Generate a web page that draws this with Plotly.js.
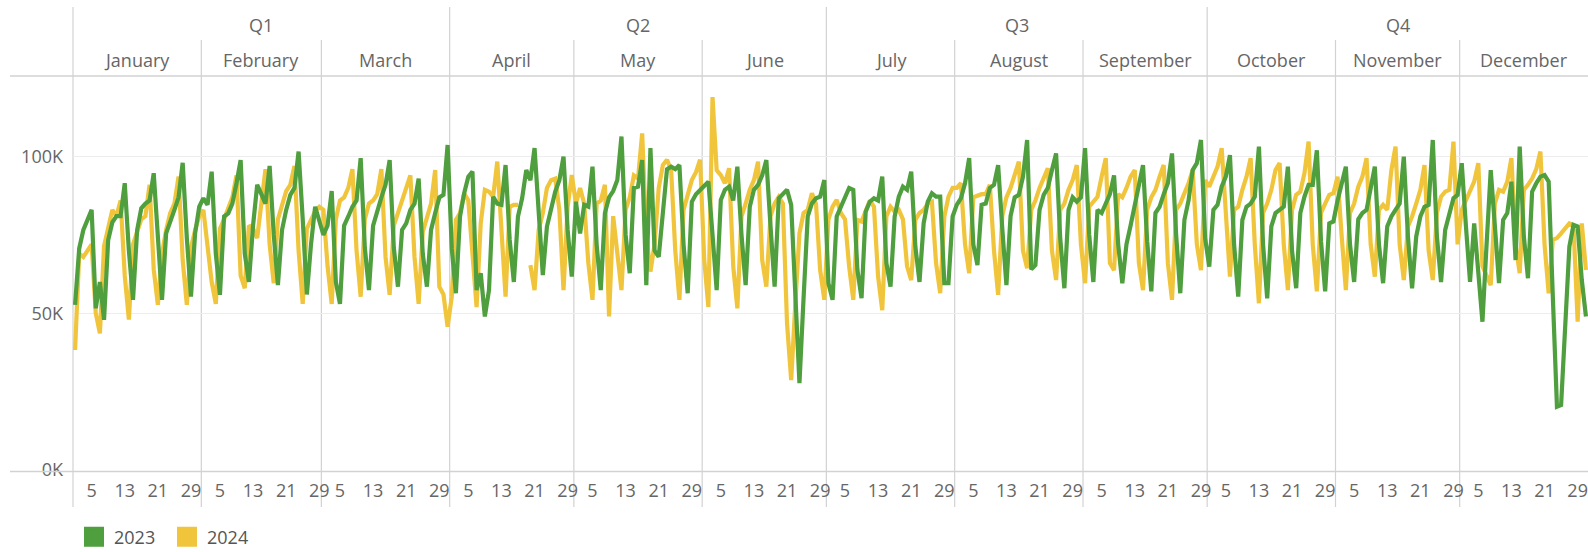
<!DOCTYPE html>
<html>
<head>
<meta charset="utf-8">
<script src="https://cdn.plot.ly/plotly-3.0.1.min.js"></script>
<style>
html,body{margin:0;padding:0;background:#fff;overflow:hidden}
#chart{width:1588px;height:552px}
</style>
</head>
<body>
<div id="chart"></div>
<script>
// ---------- data ----------
const quarters = ['Q1', 'Q2', 'Q3', 'Q4'];
const months = ['January', 'February', 'March', 'April', 'May', 'June',
  'July', 'August', 'September', 'October', 'November', 'December'];
const monthDays = [31, 29, 31, 30, 31, 30, 31, 31, 30, 31, 30, 31];
const tickDays = [5, 13, 21, 29];
const yTicks = [0, 50, 100];   // thousands
const yTickText = ['0K', '50K', '100K'];
const seriesNames = ['2023', '2024'];

// daily values in thousands, one row per month (Feb has 29 slots)
const sales2023 = [
  52.7, 70.7, 76.6, 79.8, 83, 51.6, 60, 47.9, 73.4, 79, 81, 81, 91.5, 70, 54.3, 76.6, 83.5, 85, 86, 94.7, 72, 54.3, 75.5, 79.8, 83, 87, 98, 74, 55.3, 75.5, 84,
  86.7, 84.6, 95.2, 69, 55.9, 80.9, 81.9, 85, 91.5, 98.9, 69, 60, 78, 91, 88, 85, 97, 75, 59, 76.6, 83, 87.8, 90, 101.6, 80, 56, 72, 84, null,
  75, 78, 89, 60, 53, 78, 80.9, 84, 86, 99.5, 71, 57.4, 78, 83, 87, 91, 98.9, 71, 58.5, 76.6, 78.7, 83, 85, 93, 69, 58.5, 76.6, 82, 87, 87.8, 103.7,
  70.7, 56.4, 80.9, 88.3, 93.6, 95.2, 57.4, 62.8, 49, 57.4, 87.2, 85, 84.6, 97.3, 73.4, 60, 80.9, 86.7, 95.7, 92.5, 102.7, 80.9, 62.2, 77.7, 84, 88.8, 92.5, 100, 76.6, 61.7,
  85.6, 75.5, 84.6, 84, 96.8, 72, 57.4, 82, 87, 89, 92.5, 106.4, 75, 62.8, 90, 90.4, 98.9, 59, 102.7, 70, 68, 82, 96, 96.8, 96, 97.3, 72, 56.4, 85.6, 88, 89.4,
  91, 92, 75, 57.4, 86.2, 89.4, 90.4, 86, 96.8, 75, 59, 84, 89.4, 91, 94, 98.9, 78, 58.5, 86.7, 88.3, 89.4, 84.6, 53, 27.7, 55, 80.9, 85, 86.7, 87.2, 92.5,
  59.6, 54.3, 80.9, 84, 87.2, 90, 89.4, 63.8, 54.8, 82.4, 85.6, 86.7, 86, 93.6, 66, 58.5, 80.9, 87.2, 90.4, 89.4, 95.2, 71.3, 60, 78.7, 85.6, 88.3, 87.2, 87.2, 59.6, 59.6, 80.9,
  84.6, 86.7, 91.5, 99.5, 72, 65.4, 84.6, 85, 90, 91, 97.3, 77, 59, 81, 87, 87.8, 93.6, 105.3, 64, 65.4, 83, 87.8, 90, 95.7, 101, 74, 58, 83, 87, 85.6, 87,
  102.7, 75, 60, 83, 82, 85, 88, 94, 72, 59.6, 72, 78, 85, 91, 97.3, 73, 57, 82, 84, 88, 91.5, 101, 75, 56.4, 79.8, 86, 95.7, 97.9, 105.3, 74,
  64.9, 83, 84.6, 90.4, 93.6, 100.5, 72, 55.3, 79.8, 84, 85, 87.2, 103.2, 72, 54.8, 77.7, 82, 83, 84, 96.8, 70, 58, 82, 87.2, 91, 91, 102, 73, 57, 78.7, 79.3,
  86, 92, 96.8, 72, 60, 80, 82, 83, 89.4, 96.8, 72, 59.6, 77.7, 80.9, 83, 85, 100, 74.5, 58, 74.5, 80.9, 84, 84.6, 105.3, 74.5, 60, 76.6, 82, 86.7, 87.8,
  97.9, 78, 60, 78.7, 63, 47.3, 72, 95.7, 78, 59.6, 79.8, 82, 92, 67, 103.2, 74.5, 61.2, 88.8, 91.5, 93.6, 94.1, 92, 55.3, 20.2, 20.7, 45.7, 71.3, 78.2, 77.7, 60.6, 49
];

const sales2024 = [
  38.3, 69, 68, 70, 72, 50, 43.6, 71.5, 78, 83, 81, 86, 62, 48, 72, 76.6, 80, 81, 91, 64, 52.7, 69, 76.6, 82, 85, 93.6, 67, 52.7, 71, 76.6, 81,
  83, 70, 60, 53, 77, 80, 84, 87, 94, 62, 58, 78, 77, 74, 85, 96, 72, 59.6, 80, 85, 89, 91, 97, 70, 53, 77, 80, 82.6, 84,
  83, 65, 53, 80, 86, 87, 90, 96, 70, 55.3, 80, 85, 86, 88, 96, 68, 55.9, 78, 82, 87, 90, 94, 68, 53, 76, 80, 85, 95.7, 58.5, 56, 45.7,
  55.3, 79.8, 82, 88.3, 86, 70, 52, 78.7, 89.4, 88.8, 87.2, 98.4, 76.6, 55.3, 84, 84.6, 84.6, null, null, 65.4, 57.4, 76.6, 82, 90, 92.5, 93, 83, 57.4, 84, 94.1,
  85, 90, 85, 66, 54.3, 85, 86, 91, 49, 81, 70, 57.4, 83, 87, 94, 93, 107.4, 75, 63.3, 72, 90, 97.3, 99, 95.7, 70, 54.3, 83, 88.3, 92.5, 95, 99,
  67, 52, 119, 95.7, 94.1, 91.5, 96.3, 65, 51.6, 80.9, 85, 89.4, 92.5, 98.4, 67, 58.5, 80.9, 85, 87.2, 85, 46.8, 28.7, 53, 75.5, 82, 83, 88.3, 85, 63.8, 54.3,
  80, 84, 86.2, 82, 80, 65, 54.3, 79.8, 79.3, 83, 86, 84, 61.7, 51, 80.9, 84, 82.4, 83, 80, 65, 60.6, 79.8, 82, 83, 85, 85.6, 66, 56.4, 80.9, 87.2, 90,
  90, 91.5, 72, 62.8, 87, 87.5, 88, 88, 91, 70, 55.9, 81, 87, 90, 94.5, 98.4, 70, 64.4, 83, 86, 90, 93, 96.3, 70, 60.6, 83, 85, 89.4, 92.5, 97.3, 72,
  59.6, 84, 85.6, 87.2, 93.6, 99.5, 66, 63.8, 88, 87, 90, 93.6, 95.7, 66, 57.4, 83, 87, 89.4, 93.6, 97.3, 66, 54.3, 83, 85, 88.3, 91.5, 95.7, 72, 63.8, 92.5,
  90.4, 93.6, 96.8, 102.7, 79.8, 61.7, 83, 84, 89.4, 93.6, 99.5, 72, 53.2, 82, 85, 89.4, 95.7, 97.9, 72, 57.4, 83, 87.8, 88.8, 94.7, 104.8, 72, 57, 82, 85, 87.8, 88.3,
  93.6, 74.5, 57.4, 82, 85, 90.4, 93.6, 99.5, 72, 61.7, 83, 84.6, 83, 95.7, 103.2, 72, 60.6, 77.7, 80.9, 85, 89.4, 97.3, 70, 60.6, 82, 87.2, 88.8, 89.4, 104.8, 72,
  83, 86, 89, 92, 97.9, 65, 62, 59, 85, 89.4, 88.8, 92, 99.5, 72, 62.8, 89.4, 91, 93, 96, 101.6, 72, 56.4, 73.4, 74, 75.5, 77, 78.7, 78, 47.3, 78.7, 63.8
];

// ---------- styling ----------
const GREEN = '#4f9f3f';
const YELLOW = '#f0c53c';
const TXT = '#666666';
const LINE = '#d2d2d2';
const FONT = 'Open Sans, sans-serif';

const W = 1588, H = 552;
const PL = 73, PT = 76, PB = 470;           // plot area pixel edges
const PW = W - PL;
const pxX = px => (px - PL) / PW;
const pxY = py => (PB - py) / (PB - PT);

// ---------- derived positions ----------
const monthStart = [];
let acc = 0;
for (const d of monthDays) { monthStart.push(acc); acc += d; }
const totalDays = acc;
const xIdx = sales2023.map((_, i) => i);

const tickvals = [], ticktext = [];
monthStart.forEach((s, m) => {
  tickDays.forEach(d => { if (d <= monthDays[m]) { tickvals.push(s + d - 1); ticktext.push(String(d)); } });
});

const annotations = [];
months.forEach((name, m) => {
  annotations.push({
    text: name, xref: 'x', yref: 'paper',
    x: monthStart[m] + monthDays[m] / 2 - 0.5, y: pxY(60),
    xanchor: 'center', yanchor: 'middle', showarrow: false,
    font: {family: FONT, size: 18, color: TXT}
  });
});
quarters.forEach((q, k) => {
  const s = monthStart[k * 3];
  const e = k < 3 ? monthStart[k * 3 + 3] : totalDays;
  annotations.push({
    text: q, xref: 'x', yref: 'paper',
    x: (s + e) / 2 - 0.5, y: pxY(25),
    xanchor: 'center', yanchor: 'middle', showarrow: false,
    font: {family: FONT, size: 18, color: TXT}
  });
});

const shapes = [];
monthStart.forEach((s, m) => {
  shapes.push({
    type: 'line', xref: 'paper', yref: 'paper', layer: 'below',
    x0: s / totalDays, x1: s / totalDays,
    y0: pxY(507), y1: m % 3 === 0 ? pxY(7) : pxY(40),
    line: {color: LINE, width: 1.2}
  });
});
shapes.push({type: 'line', xref: 'paper', yref: 'paper', layer: 'below',
  x0: pxX(10), x1: 1, y0: 1, y1: 1, line: {color: LINE, width: 1.5}});
shapes.push({type: 'line', xref: 'paper', yref: 'paper', layer: 'above',
  x0: pxX(10), x1: 1, y0: pxY(471.5), y1: pxY(471.5), line: {color: LINE, width: 1.5}});

const traces = [
  {x: xIdx, y: sales2024, type: 'scatter', mode: 'lines', name: seriesNames[1],
   line: {color: YELLOW, width: 4.2}, connectgaps: false, showlegend: false},
  {x: xIdx, y: sales2023, type: 'scatter', mode: 'lines', name: seriesNames[0],
   line: {color: GREEN, width: 4.2}, connectgaps: true, showlegend: false},
  {x: [null], y: [null], type: 'scatter', mode: 'markers', name: seriesNames[0],
   marker: {symbol: 'square', size: 16, color: GREEN, line: {color: GREEN, width: 4}}, showlegend: true},
  {x: [null], y: [null], type: 'scatter', mode: 'markers', name: seriesNames[1],
   marker: {symbol: 'square', size: 16, color: YELLOW, line: {color: YELLOW, width: 4}}, showlegend: true}
];

const layout = {
  width: W, height: H,
  margin: {l: PL, r: 0, t: PT, b: H - PB, pad: 0, autoexpand: false},
  paper_bgcolor: '#ffffff', plot_bgcolor: 'rgba(0,0,0,0)',
  font: {family: FONT, size: 18, color: TXT},
  showlegend: true,
  legend: {orientation: 'h', x: pxX(74), y: pxY(537), xanchor: 'left', yanchor: 'middle',
    entrywidth: 48, entrywidthmode: 'pixels',
    font: {family: FONT, size: 18, color: '#555'}, bgcolor: 'rgba(0,0,0,0)', traceorder: 'normal'},
  xaxis: {range: [-0.5, totalDays - 0.5], tickmode: 'array', tickvals: tickvals, ticktext: ticktext,
    showgrid: false, zeroline: false, showline: false, ticks: '', ticklabelstandoff: 8,
    tickfont: {family: FONT, size: 18, color: TXT}, fixedrange: true},
  yaxis: {range: [0, (PB - PT) / 3.134], tickmode: 'array', tickvals: yTicks, ticktext: yTickText,
    showgrid: true, gridcolor: '#ededed', gridwidth: 1, zeroline: false, showline: false, ticks: '',
    ticklabelstandoff: 9, tickfont: {family: FONT, size: 18, color: TXT}, fixedrange: true},
  annotations: annotations,
  shapes: shapes,
  hovermode: false
};

Plotly.newPlot('chart', traces, layout, {displayModeBar: false, staticPlot: true});
</script>
</body>
</html>
